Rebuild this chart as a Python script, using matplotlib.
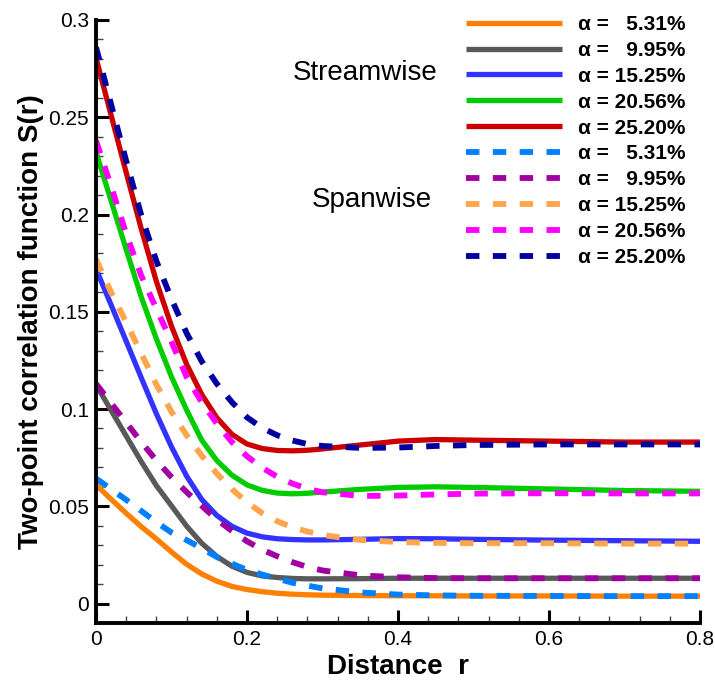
import matplotlib
matplotlib.use('agg')
from matplotlib import pyplot as plt
from matplotlib.ticker import MultipleLocator

# distance r (common sampling for every curve)
r = [0.00, 0.02, 0.04, 0.06, 0.08, 0.10, 0.12, 0.14, 0.16, 0.18, 0.20, 0.22,
     0.24, 0.26, 0.28, 0.30, 0.35, 0.40, 0.45, 0.50, 0.60, 0.70, 0.80]

alphas = ['5.31', '9.95', '15.25', '20.56', '25.20']

# streamwise S(r)
stream = [
    [0.061, 0.0536, 0.0464, 0.0395, 0.0332, 0.0265, 0.0202, 0.0152, 0.0115, 0.0088, 0.0072, 0.0061,
     0.0053, 0.0048, 0.0045, 0.0043, 0.0041, 0.0040, 0.0040, 0.0039, 0.0039, 0.0038, 0.0038],
    [0.1125, 0.0993, 0.0861, 0.0729, 0.0606, 0.0502, 0.0398, 0.031, 0.0242, 0.0192, 0.016, 0.0142,
     0.0134, 0.0129, 0.0127, 0.0127, 0.0128, 0.013, 0.013, 0.013, 0.013, 0.013, 0.013],
    [0.172, 0.1535, 0.1348, 0.116, 0.0975, 0.0805, 0.0655, 0.0535, 0.0453, 0.0397, 0.0362, 0.0343,
     0.0333, 0.0329, 0.0327, 0.0327, 0.033, 0.0334, 0.0333, 0.033, 0.0326, 0.0323, 0.032],
    [0.232, 0.207, 0.182, 0.1575, 0.136, 0.1165, 0.0995, 0.084, 0.0735, 0.066, 0.061, 0.0582,
     0.0568, 0.0564, 0.0567, 0.0573, 0.0587, 0.0597, 0.060, 0.0597, 0.0589, 0.0581, 0.0577],
    [0.2805, 0.251, 0.2215, 0.1925, 0.1655, 0.1425, 0.123, 0.1075, 0.0955, 0.087, 0.082, 0.0797,
     0.0787, 0.0785, 0.0788, 0.0795, 0.0815, 0.0835, 0.0843, 0.084, 0.0835, 0.083, 0.083],
]

# spanwise S(r)
span = [
    [0.0643, 0.0588, 0.0533, 0.0476, 0.0418, 0.0365, 0.0326, 0.0284, 0.0239, 0.0205, 0.0173, 0.0149,
     0.0128, 0.0107, 0.0092, 0.0078, 0.0057, 0.0046, 0.0042, 0.0040, 0.0039, 0.0038, 0.0038],
    [0.113, 0.103, 0.093, 0.083, 0.0735, 0.065, 0.0573, 0.0502, 0.0432, 0.0373, 0.032, 0.0277,
     0.0243, 0.0213, 0.0188, 0.017, 0.0145, 0.0135, 0.0131, 0.013, 0.013, 0.013, 0.013],
    [0.177, 0.160, 0.1445, 0.1285, 0.1125, 0.0985, 0.0865, 0.076, 0.0668, 0.0588, 0.052, 0.0465,
     0.0423, 0.0392, 0.037, 0.0352, 0.0327, 0.0316, 0.0312, 0.031, 0.031, 0.0308, 0.0308],
    [0.238, 0.2145, 0.190, 0.1685, 0.1515, 0.1345, 0.1165, 0.1035, 0.0925, 0.083, 0.0757, 0.0698,
     0.0652, 0.0617, 0.059, 0.0572, 0.0553, 0.0555, 0.0561, 0.0565, 0.0567, 0.0566, 0.0566],
    [0.286, 0.2565, 0.2275, 0.1995, 0.176, 0.1565, 0.139, 0.1245, 0.113, 0.1035, 0.0957, 0.0903,
     0.0865, 0.0838, 0.082, 0.081, 0.080, 0.0802, 0.081, 0.0815, 0.0818, 0.0818, 0.0818],
]

stream_colors = ['#ff8000', '#595959', '#3333ff', '#00cc00', '#cc0000']
span_colors = ['#0080ff', '#a000a0', '#ffa64d', '#ff00ff', '#0000a0']

plt.rcParams['font.family'] = ['Liberation Sans', 'DejaVu Sans']

fig = plt.figure(figsize=(7.15, 6.89), dpi=100)
ax = fig.add_axes([0.1343, 0.0958, 0.8448, 0.8752])


def lab(a):
    # pad short values with a figure space so the numbers line up on the right
    return 'α = ' + ('\u2007' if len(a) < 5 else '') + a + '%'


for ys, c, a in zip(stream, stream_colors, alphas):
    ax.plot(r, ys, color=c, lw=3.8, solid_capstyle='butt', solid_joinstyle='round', label=lab(a))
for ys, c, a in zip(span, span_colors, alphas):
    ax.plot(r, ys, color=c, lw=4.2, dashes=(2.3, 2.3), label=lab(a))

ax.set_xlim(0, 0.8)
ax.set_ylim(-0.01, 0.3)
ax.xaxis.set_major_locator(MultipleLocator(0.2))
ax.xaxis.set_minor_locator(MultipleLocator(0.04))
ax.yaxis.set_major_locator(MultipleLocator(0.05))
ax.yaxis.set_minor_locator(MultipleLocator(0.01))
ax.xaxis.set_major_formatter(plt.FuncFormatter(lambda v, p: '0' if v == 0 else '%g' % v))
ax.yaxis.set_major_formatter(plt.FuncFormatter(lambda v, p: '0' if abs(v) < 1e-9 else '%g' % round(v, 2)))

for s in ['top', 'right']:
    ax.spines[s].set_visible(False)
for s in ['left', 'bottom']:
    ax.spines[s].set_linewidth(2.8)
ax.tick_params(which='major', direction='in', length=9.5, width=2.2, labelsize=15, pad=5)
ax.tick_params(which='minor', direction='in', length=5, width=1.0, color='#444444')

ax.set_xlabel('Distance  r', fontsize=20, fontweight='bold', labelpad=4)
ax.set_ylabel('Two-point correlation function S(r)', fontsize=20, fontweight='bold', labelpad=3)

ax.text(0.445, 0.912, 'Streamwise', transform=ax.transAxes, fontsize=20, ha='center', va='center')
ax.text(0.457, 0.7015, 'Spanwise', transform=ax.transAxes, fontsize=20, ha='center', va='center')

leg = ax.legend(loc='upper left', bbox_to_anchor=(466 / 715, 1 - 15 / 689),
                bbox_transform=fig.transFigure, frameon=False, borderpad=0,
                borderaxespad=0, handlelength=4.6, handletextpad=0.77,
                labelspacing=0.33, prop={'size': 15, 'weight': 'bold'})

plt.savefig('out.png', dpi=100)
plt.close()
